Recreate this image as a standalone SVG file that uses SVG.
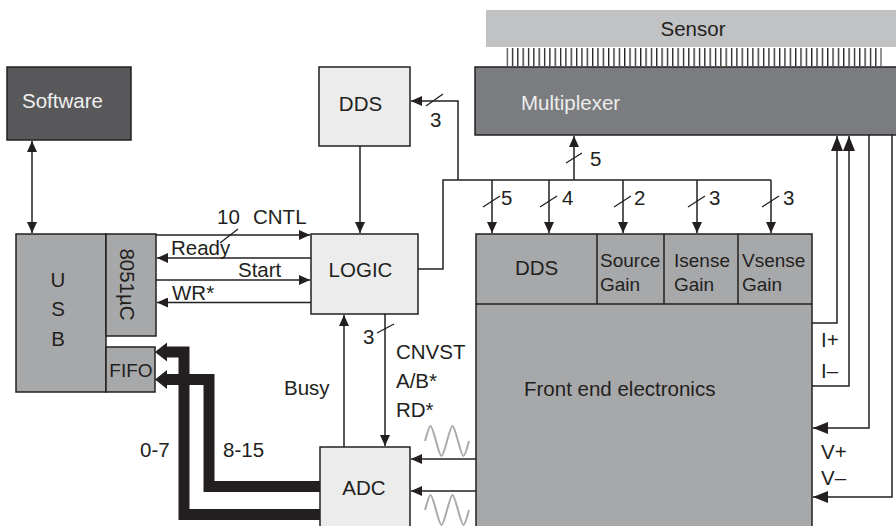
<svg xmlns="http://www.w3.org/2000/svg" width="896" height="526" viewBox="0 0 896 526">
<style>
text{font-family:"Liberation Sans",Arial,Helvetica,sans-serif;font-size:20.5px;fill:#231f20}
.t19{font-size:19px}
.box{stroke:#231f20;stroke-width:1.5}
.light{fill:#ececec}
.mid{fill:#a7a8aa}
.w{stroke:#231f20;stroke-width:1.5;fill:none}
.bus{stroke:#231f20;stroke-width:11;fill:none;stroke-linejoin:miter}
.sl{stroke:#231f20;stroke-width:1.3}
.sine{stroke:#a9aaac;stroke-width:2;fill:none}
</style>
<defs>
<marker id="ah" markerUnits="userSpaceOnUse" markerWidth="11" markerHeight="10" refX="11" refY="5" orient="auto-start-reverse"><path d="M0,0L11,5L0,10z" fill="#231f20"/></marker>
<marker id="ahb" markerUnits="userSpaceOnUse" markerWidth="15" markerHeight="12" refX="15" refY="6" orient="auto"><path d="M0,0L15,6L0,12z" fill="#231f20"/></marker>
<pattern id="ticks" patternUnits="userSpaceOnUse" x="506.5" y="48" width="5.343" height="18"><rect x="0" y="0" width="1.3" height="18" fill="#231f20"/></pattern>
</defs>

<g id="sensor">
<rect x="486" y="10" width="412" height="37" fill="#c1c2c4"/>
<rect x="506.5" y="48" width="375.2" height="18" fill="url(#ticks)"/>
<text x="693" y="36" text-anchor="middle">Sensor</text>
</g>
<g id="multiplexer">
<rect class="box" x="475" y="67" width="425" height="68" fill="#7b7c7f"/>
<text x="521" y="110" style="fill:#ededed">Multiplexer</text>
</g>
<g id="software">
<rect class="box" x="7" y="67" width="124" height="73" fill="#58585a"/>
<text x="22" y="108" style="fill:#f0f0f0">Software</text>
</g>
<g id="dds-top">
<rect class="box light" x="319" y="67" width="91" height="79"/>
<text x="360.5" y="111" text-anchor="middle">DDS</text>
</g>
<g id="usb">
<rect class="box mid" x="16" y="234" width="90" height="158"/>
<text x="58" y="287" text-anchor="middle">U</text>
<text x="58" y="316" text-anchor="middle">S</text>
<text x="58" y="346" text-anchor="middle">B</text>
</g>
<g id="uc8051">
<rect class="box mid" x="106" y="234" width="50" height="102"/>
<text transform="translate(119.5,284.5) rotate(90)" text-anchor="middle">8051µC</text>
</g>
<g id="fifo">
<rect class="box mid" x="106" y="347" width="49" height="45"/>
<text x="131" y="377" text-anchor="middle" class="t19">FIFO</text>
</g>
<g id="logic">
<rect class="box light" x="311" y="234" width="107" height="80"/>
<text x="360.5" y="277" text-anchor="middle">LOGIC</text>
</g>
<g id="adc">
<rect class="box light" x="320" y="447" width="90" height="90"/>
<text x="364" y="495" text-anchor="middle">ADC</text>
</g>
<g id="frontend">
<rect class="box mid" x="476" y="234" width="336" height="300"/>
<line class="sl" x1="476" y1="304" x2="812" y2="304" style="stroke-width:1.5"/>
<line class="sl" x1="597" y1="234" x2="597" y2="304" style="stroke-width:1.5"/>
<line class="sl" x1="664" y1="234" x2="664" y2="304" style="stroke-width:1.5"/>
<line class="sl" x1="738" y1="234" x2="738" y2="304" style="stroke-width:1.5"/>
<text x="515" y="275">DDS</text>
<text x="600" y="267" class="t19">Source</text>
<text x="600" y="291" class="t19">Gain</text>
<text x="674" y="267" class="t19">Isense</text>
<text x="674" y="291" class="t19">Gain</text>
<text x="742" y="267" class="t19">Vsense</text>
<text x="742" y="291" class="t19">Gain</text>
<text x="524" y="396">Front end electronics</text>
</g>

<g id="connectors">
<line class="w" x1="32" y1="141" x2="32" y2="233" marker-start="url(#ah)" marker-end="url(#ah)"/>
<path class="w" d="M360,146V233" marker-end="url(#ah)"/>
<path class="w" d="M156,235H310" marker-end="url(#ah)"/>
<path class="w" d="M311,258H157" marker-end="url(#ah)"/>
<path class="w" d="M156,280H310" marker-end="url(#ah)"/>
<path class="w" d="M311,302.5H157" marker-end="url(#ah)"/>
<path class="w" d="M385,314V446" marker-end="url(#ah)"/>
<path class="w" d="M344,447V315" marker-end="url(#ah)"/>
<path class="w" d="M418,269H443V180H771"/>
<path class="w" d="M458,180V101H411" marker-end="url(#ah)"/>
<path class="w" d="M574,180V136" marker-end="url(#ah)"/>
<path class="w" d="M492,180V233" marker-end="url(#ah)"/>
<path class="w" d="M549,180V233" marker-end="url(#ah)"/>
<path class="w" d="M623,180V233" marker-end="url(#ah)"/>
<path class="w" d="M697,180V233" marker-end="url(#ah)"/>
<path class="w" d="M771,180V233" marker-end="url(#ah)"/>
<path class="w" d="M812,323H837V136" marker-end="url(#ahb)"/>
<path class="w" d="M812,386H849V136" marker-end="url(#ahb)"/>
<path class="w" d="M869,135V428H813" marker-end="url(#ahb)"/>
<path class="w" d="M892,135V497H813" marker-end="url(#ahb)"/>
<path class="w" d="M476,459H411" marker-end="url(#ah)"/>
<path class="w" d="M476,491H411" marker-end="url(#ah)"/>
<path class="bus" d="M320,514.5H184V352H166"/>
<polygon points="155,352 167,342.5 167,361.5" fill="#231f20"/>
<path class="bus" d="M320,486.5H209V379.5H166"/>
<polygon points="155,379.5 167,370 167,389" fill="#231f20"/>
<line class="sl" x1="220" y1="243" x2="238" y2="229"/>
<line class="sl" x1="426" y1="106" x2="443" y2="94"/>
<line class="sl" x1="377" y1="333" x2="394" y2="324"/>
<line class="sl" x1="566" y1="163" x2="582" y2="153"/>
<line class="sl" x1="483" y1="207" x2="500" y2="196"/>
<line class="sl" x1="540" y1="207" x2="557" y2="196"/>
<line class="sl" x1="614" y1="207" x2="631" y2="196"/>
<line class="sl" x1="688" y1="207" x2="705" y2="196"/>
<line class="sl" x1="762" y1="207" x2="779" y2="196"/>
<path class="sine" d="M425,441C427,434 429,426 430.5,426C432,426 434,434 436,441C438,448 440,456 441.5,456C443,456 445,448 447,441C449,434 451,426 452.5,426C454,426 456,434 458,441C460,448 462,456 463.5,456C465,456 467,448 469,441"/>
<path class="sine" d="M425,510C427,503 429,495 430.5,495C432,495 434,503 436,510C438,517 440,525 441.5,525C443,525 445,517 447,510C449,503 451,495 452.5,495C454,495 456,503 458,510C460,517 462,525 463.5,525C465,525 467,517 469,510"/>
</g>

<g id="labels">
<text x="217" y="224">10</text>
<text x="253" y="224">CNTL</text>
<text x="171" y="255">Ready</text>
<text x="238" y="277">Start</text>
<text x="172" y="300">WR*</text>
<text x="430" y="127">3</text>
<text x="363" y="344">3</text>
<text x="396" y="359">CNVST</text>
<text x="396" y="388">A/B*</text>
<text x="396" y="417">RD*</text>
<text x="284" y="395">Busy</text>
<text x="140" y="457">0-7</text>
<text x="223" y="457">8-15</text>
<text x="590" y="166">5</text>
<text x="501" y="205">5</text>
<text x="562" y="205">4</text>
<text x="634" y="205">2</text>
<text x="709" y="205">3</text>
<text x="783" y="205">3</text>
<text x="821" y="347">I+</text>
<text x="821" y="378">I–</text>
<text x="821" y="459">V+</text>
<text x="821" y="485">V–</text>
</g>
</svg>
